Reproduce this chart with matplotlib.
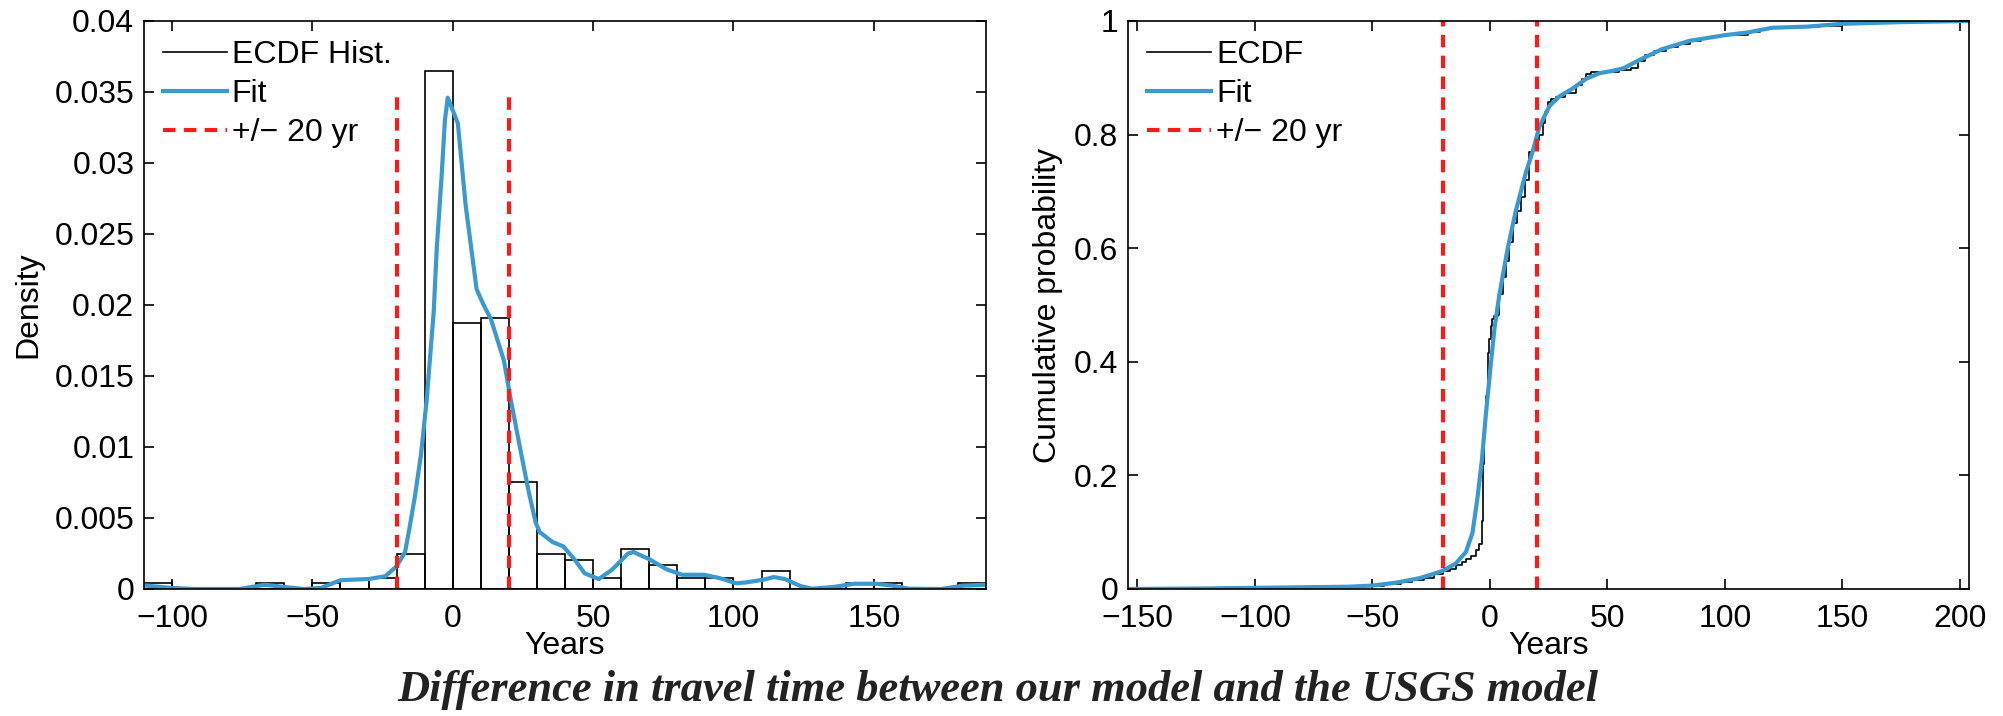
import matplotlib
matplotlib.use("Agg")
import matplotlib.pyplot as plt

# histogram (density), 10-year bins, left edges
hist_edges = list(range(-110, 190, 10))
hist_density = [0.0004, 0.0, 0.0, 0.0, 0.0004, 0.0, 0.0004, 0.0006, 0.0008, 0.00247,
                0.0365, 0.0187, 0.0191, 0.00756, 0.00247, 0.00205, 0.00077, 0.00279,
                0.0017, 0.00077, 0.00077, 0.0, 0.0013, 0.0, 0.0, 0.0004, 0.0004,
                0.0, 0.0, 0.0004]

fit_pdf_x = [-110, -100, -92, -76, -67, -60, -53, -47, -40, -30, -24, -20, -17, -15.5,
             -13.5, -11.3, -9.3, -6.8, -5.7, -4, -2.8, -1.8, 1.2, 1.8, 4.6, 8.5, 11,
             13.6, 18.2, 20.5, 24, 27, 29.5, 31, 35.6, 39.4, 43.3, 47, 52, 56.7, 62.5,
             64.4, 70, 76, 81.7, 89.4, 95, 101, 104.8, 110.6, 114.4, 118.3, 124, 128,
             135.6, 143, 150.8, 156.7, 162.5, 174, 181.7, 190]
fit_pdf_y = [0.00025, 0.00007, 0.0, 0.0, 0.0003, 0.00014, 0.0, 0.00007, 0.00062, 0.0007,
             0.0009, 0.0016, 0.0026, 0.0042, 0.0065, 0.0095, 0.0133, 0.0195, 0.0240,
             0.0290, 0.0330, 0.0346, 0.0331, 0.0328, 0.0270, 0.0211, 0.0200, 0.0190,
             0.0161, 0.0135, 0.0099, 0.0069, 0.0047, 0.0040, 0.0033, 0.0030, 0.0021,
             0.0011, 0.0007, 0.00135, 0.0025, 0.0026, 0.0021, 0.0014, 0.0010, 0.0010,
             0.00077, 0.0004, 0.00047, 0.00065, 0.00084, 0.0007, 0.0002, 0.00002,
             0.00014, 0.00037, 0.00037, 0.00023, 0.00002, 0.0, 0.00023, 0.0003]

ecdf_x = [-154, -110, -90, -70, -55, -45, -38, -33, -28, -24, -20, -17, -14.5, -12, -10,
          -8, -6, -4.5, -3.4, -3.0, -2.4, -1.7, -1.0, -0.3, 0.4, 1.0, 1.8, 3.5, 4.0, 5.5,
          6.8, 8.0, 9.7, 11.5, 13.2, 15.0, 16.8, 18.5, 19.6, 21.0, 22.4, 23.5, 24.6, 26.0,
          28, 32, 36.6, 39, 40.9, 43, 50, 55, 60, 63, 66, 70, 75, 80, 85, 90, 95, 100,
          110, 115, 120, 130, 140, 150, 160, 180, 200, 204]
ecdf_y = [0.0, 0.001, 0.002, 0.004, 0.006, 0.008, 0.012, 0.016, 0.020, 0.026, 0.032,
          0.036, 0.042, 0.047, 0.052, 0.058, 0.069, 0.079, 0.12, 0.22, 0.29, 0.34, 0.416,
          0.44, 0.463, 0.475, 0.48, 0.483, 0.52, 0.55, 0.577, 0.61, 0.645, 0.665, 0.69,
          0.72, 0.77, 0.78, 0.79, 0.80, 0.82, 0.84, 0.857, 0.862, 0.867, 0.874, 0.887,
          0.897, 0.907, 0.911, 0.911, 0.913, 0.918, 0.93, 0.94, 0.947, 0.955, 0.96,
          0.965, 0.97, 0.973, 0.976, 0.98, 0.985, 0.988, 0.99, 0.992, 0.996, 0.997,
          0.999, 1.0, 1.0]

fit_cdf_x = [-154, -120, -100, -80, -60, -50, -40, -30, -24.4, -20, -14.5, -10.2, -7.4,
             -5.3, -3.4, -1.7, 0.4, 2, 4, 7.5, 11, 15.3, 18.2, 21, 25.3, 29.5, 35.2,
             40.9, 46.6, 52, 57, 63, 73, 85, 100, 110, 120, 135, 150, 175, 204]
fit_cdf_y = [0.0, 0.001, 0.002, 0.003, 0.004, 0.006, 0.011, 0.019, 0.026, 0.032, 0.045,
             0.065, 0.099, 0.16, 0.227, 0.308, 0.396, 0.46, 0.517, 0.598, 0.665, 0.733,
             0.77, 0.813, 0.85, 0.867, 0.881, 0.898, 0.908, 0.912, 0.917, 0.93, 0.95,
             0.965, 0.975, 0.98, 0.988, 0.99, 0.995, 0.998, 1.0]

bound = 20
pdf_ticks = [0, 0.005, 0.01, 0.015, 0.02, 0.025, 0.03, 0.035, 0.04]
pdf_labels = ["0", "0.005", "0.01", "0.015", "0.02", "0.025", "0.03", "0.035", "0.04"]
cdf_ticks = [0, 0.2, 0.4, 0.6, 0.8, 1]
cdf_labels = ["0", "0.2", "0.4", "0.6", "0.8", "1"]

BLUE = "#3a9ad0"
RED = "#ff1a1a"
FS = 23

plt.rcParams["font.family"] = ["Liberation Sans", "DejaVu Sans"]

fig = plt.figure(figsize=(20.03, 7.16), dpi=100)
ax1 = fig.add_axes([0.0719, 0.1774, 0.4204, 0.7933])
ax2 = fig.add_axes([0.5632, 0.1774, 0.4199, 0.7933])


def style_axes(ax):
    for s in ax.spines.values():
        s.set_linewidth(1.2)
    ax.tick_params(direction="in", top=True, right=True, length=7, width=1.2,
                   labelsize=FS)
    ax.tick_params(axis="x", pad=10.5)
    ax.tick_params(axis="y", pad=7)


def add_legend(ax):
    ax.legend(loc="upper left", frameon=False, fontsize=FS, handlelength=2.0,
              handletextpad=0.15, labelspacing=0.28, borderaxespad=0.15,
              borderpad=0.45)


# left: histogram + fit
ax1.bar(hist_edges, hist_density, width=10, align="edge", fill=False,
        edgecolor="black", linewidth=1.2)
ax1.plot([], [], color="black", lw=1.2, label="ECDF Hist.")
ax1.plot(fit_pdf_x, fit_pdf_y, color=BLUE, lw=3, label="Fit")
ax1.plot([-bound, -bound], [0, 0.0347], color=RED, lw=3, ls=(0, (3, 2)),
         label="+/\u2212 20 yr")
ax1.plot([bound, bound], [0, 0.0347], color=RED, lw=3, ls=(0, (3, 2)))
ax1.set_xlim(-110, 190)
ax1.set_ylim(0, 0.04)
ax1.set_xticks([-100, -50, 0, 50, 100, 150])
ax1.set_yticks(pdf_ticks)
ax1.set_yticklabels(pdf_labels)
ax1.set_xlabel("Years", fontsize=FS, labelpad=-2)
ax1.set_ylabel("Density", fontsize=FS, labelpad=8)
style_axes(ax1)
add_legend(ax1)

# right: ECDF + fit
ax2.plot(ecdf_x, ecdf_y, color="black", lw=1.2, drawstyle="steps-post", label="ECDF")
ax2.plot(fit_cdf_x, fit_cdf_y, color=BLUE, lw=3, label="Fit")
ax2.axvline(-bound, color=RED, lw=3, ls=(0, (3, 2)), label="+/\u2212 20 yr")
ax2.axvline(bound, color=RED, lw=3, ls=(0, (3, 2)))
ax2.set_xlim(-154, 204)
ax2.set_ylim(0, 1)
ax2.set_xticks([-150, -100, -50, 0, 50, 100, 150, 200])
ax2.set_yticks(cdf_ticks)
ax2.set_yticklabels(cdf_labels)
ax2.set_xlabel("Years", fontsize=FS, labelpad=-2)
ax2.set_ylabel("Cumulative probability", fontsize=FS, labelpad=8)
style_axes(ax2)
add_legend(ax2)

fig.text(0.498, 0.036, "Difference in travel time between our model and the USGS model",
         ha="center", va="center", fontsize=32, style="italic", weight="bold",
         family="Liberation Serif", color="#222222")

fig.savefig("out.png", dpi=100)
